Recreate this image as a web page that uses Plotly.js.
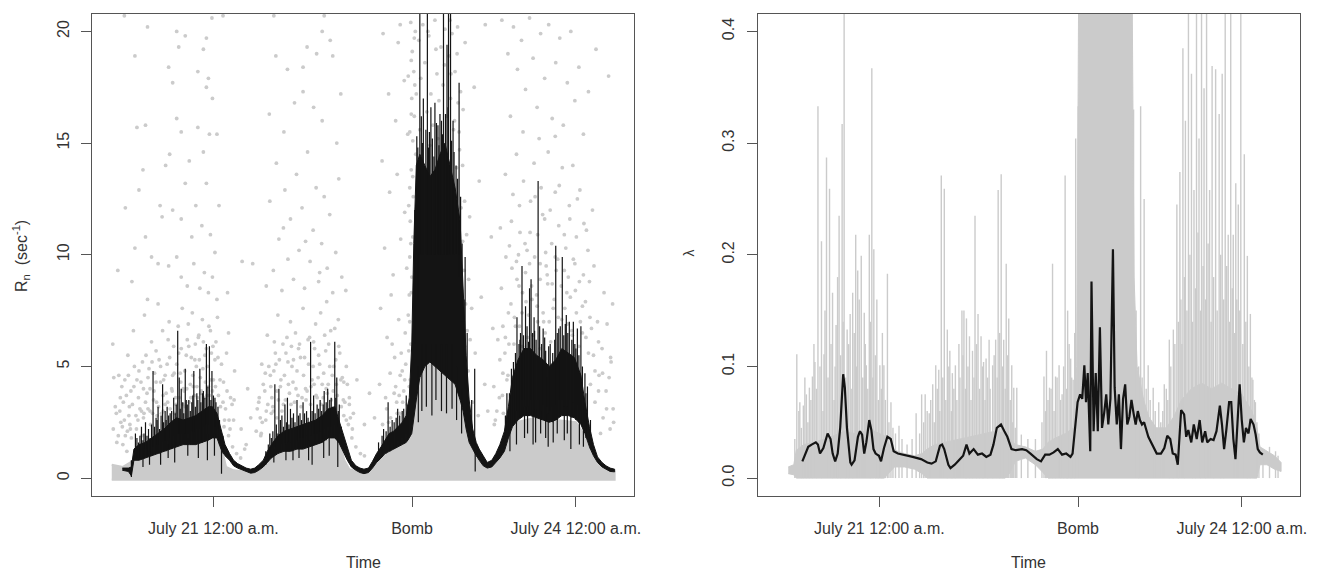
<!DOCTYPE html>
<html>
<head>
<meta charset="utf-8">
<script src="https://cdn.plot.ly/plotly-3.0.1.min.js"></script>
<style>html,body{margin:0;padding:0;background:#fff;}#chart{width:1320px;height:573px;}</style>
</head>
<body>
<div id="chart"></div>
<script>
// x values are hours since July 21 12:00 a.m.
const xTickVals = [0, 39.46, 72];
const xTickText = ['July 21 12:00 a.m.', 'Bomb', 'July 24 12:00 a.m.'];
const yTickValsLeft = [0, 5, 10, 15, 20];
const yTickValsRight = [0, 0.1, 0.2, 0.3, 0.4];
const yTickTextRight = ['0.0', '0.1', '0.2', '0.3', '0.4'];

// ---- Left panel: R_n ----
// dense grey band of points (upper edge)
const grayH  = [-20.2,-18,-16.5,-15,-12,-9,-6,-3,-1,0.5,1.5,2.5,4,8,10,11,14,17,20,22,24,25,26,27,30,32,33,36,38.5,39.5,40.5,42,45,48,50,51,52,54,56,57.5,58.5,60,64,68,72,73.5,74.5,75.5,77,79.7];
const grayHi = [0.6,0.5,0.7,0.9,1.1,1.3,1.5,1.7,2.0,2.2,1.5,0.5,0.35,0.25,0.5,0.8,1.2,1.3,1.5,1.7,1.9,1.7,0.8,0.4,0.25,0.6,0.9,1.3,1.6,2.4,4.5,5.2,5.0,4.5,3.0,1.5,0.9,0.45,0.7,1.1,1.7,2.5,2.7,2.6,2.5,2.0,1.4,0.9,0.45,0.3];

// sparse grey points
const dotH = [
-17.7,-13.1,-7.3,-6.9,-5.6,-2.0,-1.4,-0.3,1.9,-15.6,-8.9,-8.1,-3.1,-1.4,-1.0,-0.2,-7.3,-13.5,-15.2,-6.4,-3.1,-0.8,0.7,-8.7,
-19.0,-17.5,-16.2,-15.6,-14.8,-14.0,-13.5,-13.1,-12.3,-11.0,-10.6,-10.2,-8.9,-8.1,-7.3,-6.4,-6.4,-5.6,-5.2,-4.3,-3.9,-3.5,-2.7,-2.3,-1.8,-1.4,-1.0,-0.6,-0.2,0.3,0.7,1.1,2.8,-9.5,-4.8,-2.0,
-19.5,-18.8,-17.9,-17.0,-16.4,-15.9,-15.2,-14.6,-14.1,-13.7,-13.2,-12.8,-12.3,-11.9,-11.4,-11.0,-10.5,-10.1,-9.6,-9.2,-8.8,-8.3,-7.9,-7.5,-7.0,-6.6,-6.2,-5.8,-5.4,-5.0,-4.6,-4.2,-3.8,-3.4,-3.0,-2.6,-2.2,-1.8,-1.4,-1.0,-0.6,-0.2,0.3,0.8,1.3,1.9,2.6,3.4,4.2,
-19.9,-19.2,-18.4,-17.5,-16.8,-18.0,-16.5,-15.0,-13.8,-12.5,-11.2,-10.0,-17.2,-14.2,2.2,3.0,3.8,4.6,5.4,-19.8,-20.0,
5.5,6.5,7.8,8.7,9.4,4.0,3.0,6.8,5.7,7.4,6.2,
12.4,14.7,17.8,18.6,22.0,21.6,23.2,23.7,12.0,16.1,19.9,21.6,24.5,11.1,17.8,20.5,25.3,14.0,
10.5,11.2,11.9,12.5,13.0,13.6,14.2,14.8,15.3,15.9,16.5,17.0,17.6,18.1,18.7,19.2,19.8,20.4,20.9,21.5,22.0,22.6,23.1,23.7,24.3,24.9,25.5,26.3,13.9,18.3,21.1,
9.0,9.6,10.2,10.7,11.3,11.8,12.3,12.8,13.3,13.8,14.3,14.8,15.3,15.8,16.3,16.8,17.3,17.8,18.3,18.8,19.3,19.8,20.3,20.8,21.3,21.8,22.3,22.8,23.3,23.8,24.3,24.8,25.3,25.8,26.4,27.0,27.8,28.5,15.5,20.0,22.5,12.0,
9.5,10.4,11.5,26.8,27.5,28.3,12.6,25.9,29.2,30.0,
33.7,36.7,37.1,34.8,36.2,37.9,38.6,33.5,35.0,36.5,38.0,39.0,34.0,35.7,37.2,38.4,33.2,34.5,35.3,36.0,36.8,37.5,38.1,38.8,33.0,34.2,35.1,36.4,37.0,37.8,38.5,39.1,32.0,31.0,30.0,
39.2,39.5,39.8,40.1,39.4,39.9,39.6,40.2,39.3,39.7,39.1,39.6,39.0,39.4,38.9,40.0,39.3,
40.8,41.2,41.6,42.0,42.4,42.8,43.2,43.6,44.0,44.4,44.8,45.2,45.6,46.0,46.4,41.0,43.0,44.6,
46.8,47.1,47.4,47.7,48.0,48.3,48.6,48.9,49.2,49.5,49.8,50.1,50.4,47.3,48.1,48.7,49.3,49.9,50.6,51.0,47.0,48.5,46.9,
51.5,52.0,52.6,53.2,53.9,54.5,55.2,52.8,51.8,54.0,55.5,56.0,57.5,
57.3,58.5,59.6,60.4,61.2,62.0,62.8,63.5,64.3,65.0,65.8,66.6,67.3,68.0,68.8,69.5,70.3,71.0,71.8,72.6,73.5,74.5,76.0,78.5,59.0,61.5,64.7,67.9,
57.0,58.0,58.8,59.5,60.2,60.9,61.6,62.3,63.0,63.7,64.4,65.1,65.8,66.5,67.2,67.9,68.6,69.3,70.0,70.7,71.4,72.1,72.8,73.6,74.4,75.3,60.6,66.0,
56.5,57.2,57.9,58.6,59.3,60.0,60.7,61.4,62.1,62.8,63.5,64.2,64.9,65.6,66.3,67.0,67.7,68.4,69.1,69.8,70.5,71.2,71.9,72.6,73.3,74.0,74.7,75.5,76.3,77.2,78.2,79.0,
55.8,56.8,57.6,75.8,76.6,77.4,78.0,78.8,79.4,76.9,58.3,74.9,59.6
];
const dotV = [
20.7,20.2,20.0,19.3,19.8,19.2,19.7,20.6,20.7,18.9,18.4,17.7,18.2,17.5,17.9,17.0,16.1,15.8,15.7,15.5,15.7,15.4,15.4,14.5,
9.3,12.1,8.8,10.3,12.9,13.8,10.8,8.0,9.9,9.6,12.2,11.7,9.5,12.0,9.9,11.6,9.0,13.2,8.6,10.8,9.6,12.2,8.5,11.3,9.2,13.2,8.3,10.9,9.0,10.1,8.0,12.2,8.3,14.0,14.2,14.6,
3.2,4.6,3.4,5.5,3.9,6.6,4.4,3.1,5.2,7.3,3.8,4.9,6.1,3.5,5.7,7.8,4.3,6.6,3.3,5.1,7.0,4.0,5.9,3.6,6.8,4.7,7.6,3.9,5.5,6.9,4.2,7.4,3.7,5.0,6.3,4.5,7.1,3.6,5.8,4.1,6.6,3.9,5.3,7.2,4.4,3.4,5.6,3.6,4.8,
2.2,1.6,2.5,1.9,2.8,1.5,2.2,2.6,2.9,2.4,2.8,3.0,1.2,1.9,2.6,1.9,1.4,1.1,0.9,4.5,6.0,
2.2,1.5,9.6,3.1,1.9,2.6,6.5,4.0,9.7,2.7,1.3,
18.9,18.3,18.4,19.3,20.7,20.0,19.6,18.9,20.7,16.8,16.6,16.0,15.0,16.3,17.3,19.0,17.2,15.5,
8.6,12.4,9.3,14.1,10.7,8.4,12.9,9.8,11.6,8.9,13.6,10.2,12.1,8.5,14.6,9.7,11.1,13.0,8.8,10.5,12.6,9.4,11.8,8.3,10.1,13.4,9.0,8.4,11.2,10.6,9.2,
3.4,5.1,3.9,6.4,4.6,3.2,5.6,7.3,4.1,6.0,3.5,5.2,7.0,4.3,6.5,3.7,5.4,7.6,4.0,6.2,3.3,5.0,6.9,4.5,7.4,3.6,5.7,4.2,6.6,3.9,5.3,7.1,4.4,3.5,5.0,3.6,2.9,4.4,5.9,4.2,7.9,4.8,
2.0,2.6,2.9,2.4,1.8,1.4,2.7,2.8,1.1,1.0,
19.9,19.5,20.3,17.2,16.0,17.8,15.4,14.2,12.8,13.6,11.9,13.0,10.3,9.1,10.7,9.4,7.6,6.3,8.2,5.4,7.1,4.8,6.5,5.7,4.2,3.6,4.7,3.4,2.9,3.9,3.3,4.4,2.7,3.8,2.4,
20.4,19.1,18.2,20.0,17.0,16.2,15.1,14.5,13.8,12.6,11.5,10.8,9.9,9.0,8.2,17.6,18.7,
19.6,17.9,20.3,18.6,16.4,19.8,17.2,15.8,20.5,18.1,16.9,19.3,17.6,20.1,16.2,15.6,14.9,15.2,
18.9,17.0,19.9,15.6,18.2,13.9,16.8,14.7,12.1,10.6,9.3,7.8,6.6,12.8,11.4,9.9,8.4,5.9,4.8,6.2,20.5,20.2,14.1,
3.4,5.6,2.8,8.1,4.2,3.0,10.8,13.3,17.5,20.3,6.7,2.6,4.7,
20.5,19.0,20.2,18.3,19.6,17.4,20.6,18.8,16.6,19.9,17.9,20.3,16.1,18.6,19.7,15.8,17.7,20.0,16.9,18.4,15.4,17.3,19.2,18.0,16.2,15.5,15.2,15.3,
11.2,13.6,10.4,12.7,14.5,11.0,13.3,10.2,12.4,14.1,10.9,13.0,11.6,14.6,10.5,12.8,11.3,13.9,10.3,12.2,14.0,10.8,12.9,11.4,10.2,12.0,10.0,10.1,
6.2,8.5,5.6,7.4,9.4,6.8,8.6,5.9,7.9,9.6,6.4,8.2,5.8,7.0,9.1,6.1,8.0,9.8,5.6,7.6,9.0,6.6,8.4,5.9,7.7,6.3,8.8,5.5,7.0,5.8,6.9,5.2,
2.4,3.6,2.9,3.4,4.6,2.7,3.9,2.2,3.1,2.0,4.4,4.2,3.1
];
// more grey points in the denser parts of the clouds
const dotH2 = [
-18.6,-18.2,-17.7,-17.3,-16.9,-16.6,-16.1,-15.7,-15.4,-14.9,-14.4,-13.9,-13.4,-13.0,-12.6,-12.1,-11.7,-11.3,-10.8,-10.3,-9.9,-9.4,-9.0,-8.6,-8.1,-7.7,-7.3,-6.8,-6.4,-6.0,-5.6,-5.2,-4.8,-4.4,-4.0,-3.6,-3.2,-2.8,-2.4,-2.0,-1.6,-1.2,-0.8,-0.4,0.0,0.5,1.0,1.6,2.0,2.4,3.1,3.7,
9.3,9.9,10.5,11.0,11.6,12.1,12.6,13.1,13.6,14.1,14.6,15.1,15.6,16.1,16.6,17.1,17.6,18.1,18.6,19.1,19.6,20.1,20.6,21.1,21.6,22.1,22.6,23.1,23.6,24.1,24.6,25.1,25.6,26.1,26.6,27.2,
35.5,36.2,37.3,38.0,38.7,39.2,34.8,36.9,38.3,
39.0,39.3,39.6,39.9,40.3,38.8,39.2,38.7,47.2,47.9,48.4,48.8,49.1,49.5,49.9,50.3,50.7,50.9,51.3,49.6,50.0,45.9,44.2,42.6,
57.5,58.1,58.7,59.2,59.8,60.3,60.8,61.3,61.9,62.4,62.9,63.3,63.9,64.4,64.9,65.4,65.9,66.4,66.9,67.5,68.1,68.7,69.2,69.7,70.2,70.8,71.3,71.8,72.3,72.9,73.5,74.1,74.8,75.6,76.5,77.6,78.6,79.3
];
const dotV2 = [
3.0,4.1,2.6,3.7,4.6,2.4,3.3,5.0,2.8,3.6,4.3,2.7,5.5,3.1,4.0,2.9,4.7,3.4,5.3,2.9,4.4,3.8,6.2,3.1,4.6,2.9,5.1,3.6,5.8,4.0,3.2,6.2,3.4,5.4,4.1,6.0,3.6,5.3,3.9,6.1,4.3,5.0,3.7,5.6,4.4,6.1,3.7,5.1,4.3,3.1,2.6,3.3,
2.7,4.2,3.0,5.0,3.6,6.1,3.9,5.3,3.0,4.6,6.3,3.8,5.0,3.4,4.8,6.0,3.6,5.4,3.9,6.3,4.4,5.8,3.6,5.1,4.2,6.4,3.8,5.0,4.6,6.7,3.7,5.6,4.5,3.4,4.2,2.7,
6.0,4.1,5.6,4.4,7.3,6.0,2.5,3.7,2.6,
15.5,16.3,13.5,19.7,17.2,12.2,10.5,18.0,18.1,16.0,19.0,15.5,17.3,14.0,12.4,10.9,8.9,11.7,7.6,16.5,19.5,18.5,19.2,20.0,
6.8,9.9,6.0,11.5,7.2,8.9,12.2,7.4,10.5,6.3,11.0,8.0,12.6,7.0,9.6,11.8,6.5,8.7,12.0,7.6,9.3,13.1,7.1,10.9,8.3,11.6,6.4,9.6,12.5,7.0,9.1,11.1,7.2,9.5,6.1,8.3,4.5,7.8
];
const dotH3 = [
-19.3,-18.9,-18.5,-18.1,-17.6,-17.1,-16.7,-16.3,-15.8,-15.3,-14.8,-14.3,-13.9,-13.5,-13.0,-12.6,-12.2,-11.8,-11.4,-10.9,-10.5,-10.0,-9.6,-9.1,-8.7,-8.2,-7.8,-7.4,-6.9,-6.5,-6.1,-5.7,-5.3,-4.9,-4.5,-4.1,-3.7,-3.3,-2.9,-2.5,-2.1,-1.7,-1.3,-0.9,-0.5,-0.1,0.4,0.9,1.4,2.1,2.7,3.3,4.1,
8.5,9.1,9.7,10.3,10.8,11.4,11.9,12.4,12.9,13.4,13.9,14.4,14.9,15.4,15.9,16.4,16.9,17.4,17.9,18.4,18.9,19.4,19.9,20.4,20.9,21.4,21.9,22.4,22.9,23.4,23.9,24.4,24.9,25.4,25.9,26.4,27.0,27.6,
33.6,34.4,35.2,35.9,36.5,37.1,37.6,38.2,38.9,39.3,39.0,
55.7,56.3,56.9,57.4,58.0,58.5,59.1,59.7,60.2,60.8,61.4,62.0,62.6,63.2,63.8,64.3,64.9,65.5,66.1,66.7,67.3,67.9,68.5,69.1,69.7,70.3,70.9,71.5,72.1,72.7,73.3,73.9,74.5,75.1,75.8,76.5,77.3,78.1,78.9,79.5
];
const dotV3 = [
2.9,1.9,3.6,2.3,4.4,2.1,3.2,1.8,4.1,2.2,4.8,3.0,4.0,3.4,4.5,3.0,5.2,3.9,4.3,3.2,5.0,3.7,4.6,3.4,5.4,3.9,4.7,3.3,5.6,4.3,3.3,4.8,4.0,5.9,3.6,4.6,5.3,4.1,6.4,3.8,4.9,5.5,3.7,6.8,4.4,5.9,4.1,5.4,3.2,2.3,3.9,2.2,3.5,
2.1,3.6,2.5,4.7,3.3,4.1,3.0,5.1,3.5,4.4,3.3,5.6,4.2,3.3,5.3,4.0,5.8,3.2,4.6,3.5,5.1,4.1,6.1,3.7,5.5,3.3,4.7,4.0,6.0,3.5,5.0,4.2,5.9,3.2,4.3,2.6,3.3,2.2,
2.4,3.1,2.7,3.8,2.9,4.6,3.4,5.1,4.1,8.3,7.0,
4.1,3.0,5.3,3.7,6.3,4.6,7.8,6.0,9.7,6.8,8.3,9.2,7.3,8.6,9.9,7.7,8.9,7.4,9.5,7.0,8.7,9.9,7.2,8.6,9.3,6.9,8.1,9.8,7.4,8.8,6.5,7.9,5.6,6.7,4.8,3.9,4.7,3.1,5.4,2.5
];

// black line: dense band (lower / upper edge)
const bandH  = [-18.1,-16.9,-16.3,-15.8,-14.8,-13.5,-12.3,-11.0,-9.8,-8.5,-7.3,-6.0,-4.8,-3.5,-2.3,-1.0,-0.2,0.7,1.5,2.3,3.2,4.0,4.8,5.7,6.5,7.4,8.2,9.0,9.9,10.7,11.5,12.8,14.0,15.3,16.6,17.8,19.1,20.3,21.6,22.8,24.1,24.9,25.8,26.6,27.4,28.3,29.1,29.9,30.8,31.6,32.4,33.3,34.1,34.9,35.8,36.6,37.5,38.3,38.9,39.4,39.8,40.3,41.0,42.0,43.0,44.0,45.0,46.0,47.0,48.0,49.0,49.6,50.2,50.8,51.5,52.2,52.8,53.6,54.4,55.3,56.1,56.9,57.8,58.6,59.4,60.5,61.7,63.0,64.2,65.5,66.7,68.0,69.2,70.5,71.7,73.0,73.8,74.7,75.5,76.3,77.2,78.0,78.8,79.7];
const bandLo = [0.35,0.3,0.1,0.8,0.8,0.9,1.0,1.1,1.2,1.3,1.4,1.5,1.5,1.5,1.6,1.7,1.8,1.8,1.3,1.0,0.8,0.55,0.45,0.35,0.3,0.22,0.25,0.35,0.5,0.7,0.9,1.1,1.2,1.2,1.3,1.3,1.4,1.5,1.6,1.8,1.8,1.6,1.2,0.8,0.5,0.35,0.25,0.2,0.25,0.45,0.7,0.9,1.1,1.2,1.3,1.4,1.5,1.6,1.8,2.0,2.5,3.5,4.5,5.0,5.2,5.0,4.8,4.6,4.4,4.2,3.5,3.0,2.2,1.6,1.3,1.0,0.8,0.55,0.45,0.5,0.7,0.9,1.2,1.8,2.3,2.6,2.8,2.8,2.7,2.6,2.5,2.6,2.8,2.8,2.7,2.4,2.0,1.4,1.0,0.7,0.5,0.4,0.3,0.28];
const bandHi = [0.45,0.45,0.5,1.3,1.5,1.6,1.8,2.0,2.2,2.5,2.7,2.6,2.7,2.8,3.0,3.2,3.2,2.9,2.2,1.5,1.1,0.8,0.65,0.55,0.45,0.4,0.45,0.6,0.8,1.2,1.5,1.9,2.1,2.2,2.3,2.4,2.5,2.6,2.8,3.1,3.2,2.6,1.9,1.3,0.8,0.55,0.45,0.4,0.45,0.75,1.1,1.4,1.7,2.0,2.1,2.3,2.5,2.8,3.6,6.0,10.5,14.0,14.5,14.0,13.5,13.8,14.5,15.0,14.0,13.0,11.5,8.5,5.5,3.5,2.2,1.6,1.3,1.0,0.7,0.8,1.1,1.5,2.1,3.2,4.5,5.3,5.8,5.8,5.5,5.3,5.0,5.3,5.8,5.6,5.4,4.6,3.4,2.3,1.5,0.95,0.7,0.55,0.45,0.4];

// black line: individual excursions (time, extreme value, level it leaves from)
const spikeH = [-15.5,-14.3,-13.5,-12.0,-11.4,-11.0,-10.1,-9.6,-9.2,-8.6,-7.9,-7.1,-6.8,-6.4,-5.6,-5.2,-4.9,-4.3,-3.9,-3.3,-2.7,-2.0,-1.4,-0.8,-0.3,0.3,0.9,
11.2,12.2,13.0,13.6,14.2,14.7,15.3,15.9,16.6,17.2,17.8,18.5,19.3,19.9,20.6,21.2,22.0,22.7,23.4,24.1,24.5,25.0,
33.8,34.7,35.5,36.6,37.5,38.3,
41.0,42.5,45.7,46.7,47.1,41.7,43.2,44.0,45.0,46.4,47.6,48.8,50.0,51.3,51.9,40.6,42.9,44.6,
58.3,59.2,60.3,61.3,62.0,62.8,63.1,63.8,64.5,65.5,66.3,67.1,68.0,68.6,69.3,70.1,70.7,71.5,72.3,73.0,73.8,74.3,60.9,66.9,
-16.3,-10.5,1.6,15.8,19.6,24.7,52.0,58.9,63.5,67.5,71.0];
const spikeV = [2.0,2.3,2.5,4.8,2.7,3.2,4.2,3.0,3.2,2.9,3.6,6.6,4.5,4.0,4.9,3.3,3.5,3.4,4.8,3.8,4.9,3.9,6.0,5.9,4.8,3.6,3.2,
2.0,4.2,4.0,2.8,3.3,3.6,3.1,2.9,3.5,2.9,3.4,3.0,6.1,3.7,3.3,3.5,3.9,4.0,3.6,6.1,4.5,3.3,
2.2,3.4,2.6,3.1,3.0,3.7,
22,22,22,22,22,17.0,16.6,16.8,16.3,19.4,16.0,17.7,9.9,3.5,4.9,14.8,15.5,15.8,
3.8,4.9,7.2,9.5,7.7,8.5,8.9,6.6,13.3,6.7,4.5,4.9,10.4,6.7,9.9,7.3,7.0,7.0,6.7,6.8,4.7,4.1,6.2,6.0,
0.05,0.6,0.2,0.8,0.6,0.5,0.3,1.2,1.5,1.6,1.3];
const spikeBase = [1.1,1.2,1.3,1.4,1.5,1.5,1.6,1.7,1.7,1.8,1.9,2.0,2.0,2.0,2.0,2.0,2.0,2.1,2.1,2.2,2.2,2.3,2.4,2.4,2.4,2.3,2.2,
1.1,1.4,1.5,1.5,1.6,1.6,1.6,1.7,1.7,1.8,1.8,1.9,1.9,2.0,2.0,2.1,2.2,2.3,2.3,2.4,2.3,2.0,
1.3,1.5,1.6,1.7,1.8,2.0,
10,10,10,10,10,10,10,10,10,10,10,9,4,2.0,1.5,8,10,10,
2.0,2.4,3.0,3.5,3.5,3.5,3.5,3.5,3.5,3.3,3.2,3.2,3.3,3.5,3.5,3.5,3.5,3.4,3.3,3.0,2.5,2.0,3.0,3.0,
0.8,1.2,1.4,1.3,1.5,1.8,1.2,2.5,3.0,2.8,2.8];
// smaller excursions that make the band ragged
const spike2H = [-15.2,-14.9,-14.6,-14.0,-13.8,-13.2,-12.9,-12.6,-12.3,-11.7,-11.2,-10.7,-10.4,-9.9,-9.4,-8.9,-8.3,-7.6,-7.4,-6.6,-6.1,-5.9,-5.4,-4.6,-4.1,-3.6,-3.1,-2.5,-2.2,-1.7,-1.1,-0.5,0.0,0.5,1.2,1.9,
-14.0,-12.7,-9.0,-7.7,-5.1,-3.0,-1.2,0.2,
10.4,10.9,11.5,11.8,12.5,12.8,13.3,13.9,14.5,15.0,15.6,16.2,16.9,17.5,18.1,18.8,19.6,20.2,20.9,21.5,21.8,22.4,23.1,23.7,24.3,24.8,25.4,
12.0,14.4,17.0,18.9,21.9,23.0,
32.8,33.5,34.3,35.1,35.9,36.3,37.0,37.8,38.6,
40.0,40.4,40.8,41.3,41.5,42.2,42.7,43.5,43.8,44.3,44.8,45.3,45.5,46.1,46.6,47.3,47.8,48.2,48.5,49.1,49.4,49.8,50.4,
40.7,41.4,42.3,43.4,44.2,45.3,46.3,47.4,48.3,49.3,
58.0,58.8,59.6,60.0,60.7,61.0,61.6,62.3,62.6,63.4,63.7,64.1,64.8,65.2,65.8,66.0,66.6,67.4,67.8,68.3,68.9,69.6,69.9,70.4,71.2,71.8,72.0,72.6,73.3,74.0,74.9,
60.2,61.8,62.4,64.0,65.0,66.0,66.5,68.3,69.7,70.3,72.7,73.5];
const spike2V = [1.8,1.6,1.9,1.7,2.0,1.9,2.2,1.8,2.4,2.3,2.6,2.2,2.8,2.5,2.6,2.8,3.0,2.9,3.3,3.1,3.4,2.9,3.5,3.0,3.7,3.2,3.5,3.4,3.8,3.6,4.1,3.5,3.7,3.4,2.6,1.9,
0.5,0.6,0.9,0.7,1.0,0.9,0.8,1.0,
1.2,1.5,1.8,2.1,2.4,2.0,2.6,2.3,2.5,2.4,2.7,2.5,2.8,2.6,2.9,2.7,3.0,2.9,3.1,3.0,3.3,3.4,3.5,3.2,3.6,3.0,2.3,
0.7,0.8,0.9,0.8,0.9,1.0,
1.6,1.9,2.1,2.3,2.5,2.7,2.8,3.1,3.3,
12.0,15.3,14.1,16.2,15.0,15.6,14.8,15.2,14.4,15.9,14.9,16.0,15.4,16.3,16.6,15.1,14.6,14.0,13.4,12.6,10.5,8.0,6.5,
2.5,3.0,3.2,2.8,3.5,3.0,2.9,3.1,2.6,2.0,
2.8,3.8,5.2,5.6,6.0,6.5,6.4,6.8,6.1,6.5,7.2,6.2,6.8,6.0,6.3,5.7,5.9,5.6,6.2,6.5,6.8,6.4,6.9,6.5,6.2,6.0,5.8,5.5,5.0,3.8,2.6,
1.5,1.8,2.0,1.6,2.0,1.8,1.4,2.0,1.7,2.0,1.5,1.4];
const spike2Base = [0.9,0.9,0.9,0.9,0.9,1.0,1.0,1.0,1.0,1.1,1.1,1.1,1.2,1.2,1.2,1.3,1.3,1.4,1.4,1.5,1.5,1.5,1.5,1.5,1.5,1.5,1.6,1.6,1.6,1.7,1.7,1.8,1.8,1.8,1.5,1.1,
1.1,1.2,1.5,1.6,1.8,1.8,2.0,2.0,
0.6,0.75,0.9,0.95,1.05,1.1,1.15,1.2,1.2,1.2,1.2,1.3,1.3,1.3,1.35,1.4,1.45,1.5,1.55,1.6,1.65,1.7,1.8,1.8,1.75,1.6,1.4,
1.3,1.5,1.6,1.7,2.0,2.1,
0.8,0.95,1.1,1.2,1.3,1.35,1.45,1.55,1.7,
6,10,10,10,10,10,10,10,10,10,10,10,10,10,10,10,10,10,10,9,7,5,3,
5,6,6,6,6,6,6,6,5,4,
1.5,2.0,2.4,2.5,2.7,2.7,2.8,2.8,2.8,2.8,2.8,2.7,2.7,2.6,2.6,2.6,2.5,2.5,2.6,2.6,2.8,2.8,2.8,2.8,2.7,2.7,2.6,2.5,2.3,1.8,1.3,
3.0,3.2,3.2,3.1,3.0,2.9,2.9,3.0,3.2,3.2,2.8,2.5];

// ---- Right panel: lambda ----
const lamGrayH  = [-18.1,-17.0,-16.5,-15,-13,-11,-9,-7,-5,-3,-1,1,2,3,5,7,8.5,9.5,11,13,15,17,19,21,23,25,26,27,29,31,32.5,33.5,35,37,38.5,39.2,39.6,50.2,50.6,51.2,52.5,53.5,55,57,58.5,60,62,64,66,68,70,72,74,75,75.6,77,78.5,79.8];
const lamGrayLo = [0.004,0.003,0,0,0,0,0,0,0,0,0,0,0.005,0.010,0.010,0.008,0.004,0,0,0,0,0,0,0,0,0,0.005,0.015,0.018,0.012,0.005,0,0,0,0,0,0,0,0,0,0,0,0,0,0,0,0,0,0,0,0,0,0,0,0.012,0.012,0.008,0.006];
const lamGrayHi = [0.010,0.012,0.025,0.030,0.032,0.035,0.038,0.042,0.040,0.042,0.042,0.038,0.030,0.025,0.022,0.020,0.022,0.026,0.030,0.032,0.034,0.036,0.038,0.040,0.042,0.040,0.035,0.030,0.028,0.024,0.026,0.032,0.036,0.040,0.045,0.100,0.45,0.45,0.180,0.100,0.070,0.055,0.045,0.045,0.055,0.070,0.080,0.085,0.080,0.085,0.080,0.075,0.060,0.045,0.028,0.024,0.020,0.014];

const lamSpikeH = [-16.8,-16.4,-15.8,-15.1,-14.5,-13.9,-13.3,-12.8,-12.2,-11.5,-11.0,-10.5,-9.9,-9.3,-8.6,-8.0,-7.4,-7.0,-6.4,-5.8,-5.3,-4.7,-4.3,-3.6,-3.0,-2.6,-2.0,-1.5,-1.1,-0.5,0.1,0.9,1.6,2.3,3.9,
7.3,8.4,9.1,9.9,10.6,11.2,11.8,12.3,12.9,13.5,14.0,14.5,15.1,15.8,16.4,16.8,17.3,17.9,18.5,19.0,19.6,20.2,20.7,21.2,21.8,22.5,23.1,23.6,24.2,24.7,25.2,25.7,26.3,26.7,27.3,28.2,
32.7,33.2,33.8,34.4,35.0,35.7,36.3,36.9,37.4,38.0,38.5,39.0,39.5,
50.5,51.9,52.6,53.4,54.4,55.5,56.6,57.6,58.4,59.1,59.7,60.3,60.8,61.4,62.0,62.5,63.0,63.5,64.0,64.5,65.0,65.6,66.1,66.8,67.5,68.1,68.7,69.3,69.8,70.3,70.8,71.3,71.8,72.5,73.1,73.7,74.2,74.7,76.2,78.7];
const lamSpikeV = [0.035,0.111,0.068,0.065,0.075,0.081,0.091,0.104,0.333,0.212,0.111,0.287,0.259,0.166,0.137,0.235,0.317,0.45,0.133,0.147,0.166,0.218,0.186,0.199,0.148,0.101,0.218,0.367,0.205,0.160,0.101,0.101,0.183,0.068,0.047,
0.058,0.075,0.075,0.058,0.084,0.101,0.097,0.271,0.259,0.133,0.114,0.094,0.101,0.120,0.150,0.150,0.143,0.127,0.114,0.235,0.147,0.127,0.104,0.107,0.124,0.101,0.124,0.258,0.272,0.124,0.192,0.143,0.101,0.081,0.081,0.039,
0.091,0.114,0.081,0.192,0.091,0.101,0.075,0.271,0.150,0.107,0.088,0.304,0.333,
0.330,0.333,0.250,0.101,0.081,0.068,0.084,0.124,0.133,0.245,0.274,0.385,0.320,0.45,0.362,0.258,0.45,0.304,0.45,0.349,0.45,0.258,0.369,0.366,0.326,0.362,0.45,0.218,0.45,0.218,0.264,0.245,0.45,0.290,0.199,0.147,0.088,0.068,0.019,0.024];
// denser, lower grey excursions
const lamSpike2H = [-16.0,-15.5,-14.8,-14.2,-13.6,-13.0,-12.5,-11.8,-11.2,-10.8,-10.2,-9.6,-9.0,-8.8,-8.3,-7.7,-7.2,-6.7,-6.1,-5.6,-5.0,-4.5,-4.0,-3.3,-2.8,-2.3,-1.8,-1.3,-0.8,-0.2,0.4,0.6,1.2,1.9,2.7,3.2,4.5,5.5,6.5,
8.0,8.8,9.5,10.2,10.9,11.5,12.0,12.6,13.2,13.8,14.3,14.8,15.4,16.0,16.6,17.1,17.6,18.2,18.8,19.3,19.9,20.5,21.0,21.5,22.0,22.8,23.4,23.9,24.5,25.0,25.5,26.0,26.5,27.0,
29.5,31.0,32.3,33.0,33.5,34.1,34.7,35.3,36.0,36.6,37.2,37.7,38.2,38.8,
51.0,51.5,52.2,53.0,53.8,54.8,55.9,56.3,57.0,57.3,57.9,58.7,59.4,59.9,60.1,60.6,61.1,61.7,62.2,62.8,63.3,63.8,64.3,64.8,65.3,65.9,66.4,67.1,67.8,68.4,69.0,69.6,70.1,70.6,71.0,71.6,72.2,72.8,73.4,74.0,74.5,75.0,75.4,77.5,79.2];
const lamSpike2V = [0.060,0.045,0.090,0.050,0.070,0.120,0.080,0.100,0.060,0.150,0.090,0.120,0.070,0.100,0.180,0.110,0.140,0.090,0.120,0.080,0.130,0.100,0.160,0.090,0.120,0.080,0.140,0.090,0.110,0.070,0.080,0.130,0.070,0.050,0.045,0.040,0.035,0.030,0.035,
0.040,0.050,0.060,0.070,0.050,0.080,0.060,0.090,0.070,0.100,0.060,0.080,0.070,0.090,0.110,0.080,0.100,0.070,0.090,0.120,0.080,0.100,0.070,0.090,0.080,0.110,0.090,0.130,0.100,0.080,0.110,0.070,0.050,0.045,
0.035,0.035,0.050,0.060,0.070,0.080,0.060,0.090,0.070,0.100,0.080,0.120,0.090,0.130,
0.150,0.100,0.090,0.080,0.070,0.060,0.050,0.060,0.080,0.070,0.100,0.120,0.140,0.160,0.120,0.180,0.150,0.200,0.140,0.170,0.220,0.150,0.190,0.160,0.210,0.140,0.180,0.150,0.200,0.160,0.190,0.140,0.170,0.130,0.160,0.150,0.120,0.140,0.100,0.090,0.070,0.050,0.040,0.028,0.020];

// smoothed lambda (black)
const lamH = [-15.30,-14.72,-14.13,-13.46,-12.63,-12.21,-11.79,-11.12,-10.28,-9.70,-9.28,-8.78,-8.28,-7.78,-7.44,-7.19,-6.86,-6.44,-5.77,-5.52,-4.93,-4.26,-3.85,-3.43,-3.01,-2.59,-2.01,-1.59,-1.17,-0.75,-0.08,0.33,0.92,1.59,2.26,2.84,3.68,4.93,6.61,8.28,9.53,10.37,11.20,12.04,12.46,12.88,13.71,14.13,14.97,15.80,16.64,17.31,17.89,18.73,19.57,20.40,21.24,22.07,22.66,23.33,24.16,24.83,25.42,26.25,27.09,28.34,29.18,30.02,31.27,32.11,32.94,33.78,34.62,35.45,36.29,37.12,37.96,38.38,38.80,39.38,39.88,40.30,40.72,41.05,41.39,41.72,41.89,42.14,42.56,42.98,43.39,43.81,44.23,44.65,45.07,45.48,45.90,46.40,46.74,47.16,47.58,47.99,48.41,48.83,49.25,49.67,50.08,50.50,50.92,51.34,51.76,52.17,52.59,53.43,54.26,55.10,55.94,56.61,57.19,57.78,58.28,58.86,59.28,59.95,60.54,60.95,61.37,61.96,62.46,63.04,63.63,64.13,64.72,65.13,65.80,66.39,66.97,67.64,68.06,68.48,68.90,69.48,69.90,70.32,70.74,71.15,71.57,71.99,72.41,72.83,73.33,73.75,74.33,74.75,75.17,75.59,76.17];
const lamV = [0.015,0.022,0.028,0.030,0.032,0.030,0.022,0.027,0.040,0.035,0.022,0.015,0.022,0.045,0.081,0.093,0.081,0.045,0.014,0.012,0.016,0.037,0.042,0.039,0.022,0.032,0.052,0.043,0.026,0.022,0.020,0.015,0.027,0.037,0.035,0.024,0.022,0.021,0.019,0.017,0.014,0.013,0.015,0.029,0.030,0.026,0.012,0.009,0.012,0.016,0.020,0.030,0.022,0.026,0.021,0.022,0.019,0.021,0.030,0.045,0.048,0.042,0.037,0.026,0.025,0.026,0.025,0.022,0.017,0.015,0.021,0.021,0.023,0.026,0.021,0.022,0.019,0.022,0.040,0.068,0.075,0.071,0.101,0.068,0.094,0.052,0.024,0.176,0.042,0.094,0.042,0.135,0.045,0.058,0.075,0.048,0.071,0.205,0.081,0.048,0.075,0.026,0.071,0.084,0.048,0.055,0.070,0.058,0.048,0.060,0.052,0.048,0.050,0.037,0.029,0.022,0.022,0.027,0.038,0.035,0.022,0.021,0.012,0.061,0.057,0.037,0.043,0.032,0.048,0.035,0.052,0.032,0.042,0.032,0.035,0.034,0.042,0.065,0.048,0.026,0.042,0.068,0.068,0.035,0.017,0.048,0.084,0.052,0.032,0.045,0.040,0.053,0.048,0.039,0.026,0.023,0.021];

// ---- build traces ----
const GRAY = '#cbcbcb';
const BLACK = '#141414';
const BAND_FLOOR = -0.07;

function polygon(xs, top, bottom) {
  const x = xs.concat(xs.slice().reverse());
  const y = top.concat(bottom.slice().reverse());
  return {x, y};
}
function segments(xs, a, b) {
  const x = [], y = [];
  for (let i = 0; i < xs.length; i++) {
    x.push(xs[i], xs[i], null);
    y.push(b[i], a[i], null);
  }
  return {x, y};
}

const grayPoly = polygon(grayH, grayHi, grayH.map(() => BAND_FLOOR));
const blackPoly = polygon(bandH, bandHi, bandLo);
const blackSeg = segments(spikeH.concat(spike2H), spikeV.concat(spike2V), spikeBase.concat(spike2Base));
const lamPoly = polygon(lamGrayH, lamGrayHi, lamGrayLo);
const lamAllH = lamSpikeH.concat(lamSpike2H);
const lamSeg = segments(lamAllH, lamSpikeV.concat(lamSpike2V), lamAllH.map(() => 0));

const traces = [
  {x: grayPoly.x, y: grayPoly.y, xaxis: 'x', yaxis: 'y', mode: 'lines', fill: 'toself',
   fillcolor: GRAY, line: {color: GRAY, width: 2}, hoverinfo: 'skip'},
  {x: dotH.concat(dotH2, dotH3), y: dotV.concat(dotV2, dotV3), xaxis: 'x', yaxis: 'y', mode: 'markers',
   marker: {color: GRAY, size: 3.8, line: {width: 0}}, hoverinfo: 'skip'},
  {x: blackPoly.x, y: blackPoly.y, xaxis: 'x', yaxis: 'y', mode: 'lines', fill: 'toself',
   fillcolor: BLACK, line: {color: BLACK, width: 1}, hoverinfo: 'skip'},
  {x: blackSeg.x, y: blackSeg.y, xaxis: 'x', yaxis: 'y', mode: 'lines',
   line: {color: BLACK, width: 1.2}, connectgaps: false, hoverinfo: 'skip'},

  {x: lamPoly.x, y: lamPoly.y, xaxis: 'x2', yaxis: 'y2', mode: 'lines', fill: 'toself',
   fillcolor: GRAY, line: {color: GRAY, width: 1}, hoverinfo: 'skip'},
  {x: lamSeg.x, y: lamSeg.y, xaxis: 'x2', yaxis: 'y2', mode: 'lines',
   line: {color: GRAY, width: 1.4}, connectgaps: false, hoverinfo: 'skip'},
  {x: lamH, y: lamV, xaxis: 'x2', yaxis: 'y2', mode: 'lines',
   line: {color: BLACK, width: 2.2}, hoverinfo: 'skip'}
];

const FONT = {family: 'Liberation Sans, Arial, sans-serif', size: 16, color: '#333'};
function axisBase() {
  return {showgrid: false, zeroline: false, showline: true, mirror: true,
    linecolor: '#555', linewidth: 1, ticks: 'outside', ticklen: 10, tickwidth: 1,
    tickcolor: '#555', tickfont: FONT, fixedrange: true};
}
const xa = Object.assign(axisBase(), {domain: [0.0698, 0.4805], range: [-24.1, 83.6],
  tickmode: 'array', tickvals: xTickVals, ticktext: xTickText, ticklabelstandoff: 8, anchor: 'y'});
const xa2 = Object.assign(axisBase(), {domain: [0.5739, 0.9850], range: [-24.2, 83.6],
  tickmode: 'array', tickvals: xTickVals, ticktext: xTickText, ticklabelstandoff: 8, anchor: 'y2'});
const ya = Object.assign(axisBase(), {domain: [0.1344, 0.9764], range: [-0.8, 20.8],
  tickmode: 'array', tickvals: yTickValsLeft, tickangle: -90, ticklabelstandoff: 6, anchor: 'x'});
const ya2 = Object.assign(axisBase(), {domain: [0.1344, 0.9764], range: [-0.016, 0.416],
  tickmode: 'array', tickvals: yTickValsRight, ticktext: yTickTextRight, tickangle: -90, ticklabelstandoff: 6, anchor: 'x2'});

const layout = {
  width: 1320, height: 573,
  margin: {l: 0, r: 0, t: 0, b: 0},
  paper_bgcolor: '#fff', plot_bgcolor: '#fff',
  showlegend: false,
  font: FONT,
  xaxis: xa, yaxis: ya, xaxis2: xa2, yaxis2: ya2,
  annotations: [
    {text: 'R<sub>n</sub>  (sec<sup>-1</sup>)', xref: 'paper', yref: 'paper', x: 0.0159, y: 0.5532,
     xanchor: 'center', yanchor: 'middle', textangle: -90, showarrow: false, font: FONT},
    {text: 'Time', xref: 'paper', yref: 'paper', x: 0.2752, y: 0.0,
     xanchor: 'center', yanchor: 'bottom', showarrow: false, font: FONT},
    {text: 'λ', xref: 'paper', yref: 'paper', x: 0.5223, y: 0.5585,
     xanchor: 'center', yanchor: 'middle', textangle: -90, showarrow: false,
     font: {family: FONT.family, size: 14, color: '#333'}},
    {text: 'Time', xref: 'paper', yref: 'paper', x: 0.7795, y: 0.0,
     xanchor: 'center', yanchor: 'bottom', showarrow: false, font: FONT}
  ]
};

Plotly.newPlot('chart', traces, layout, {staticPlot: true, displayModeBar: false});
</script>
</body>
</html>
